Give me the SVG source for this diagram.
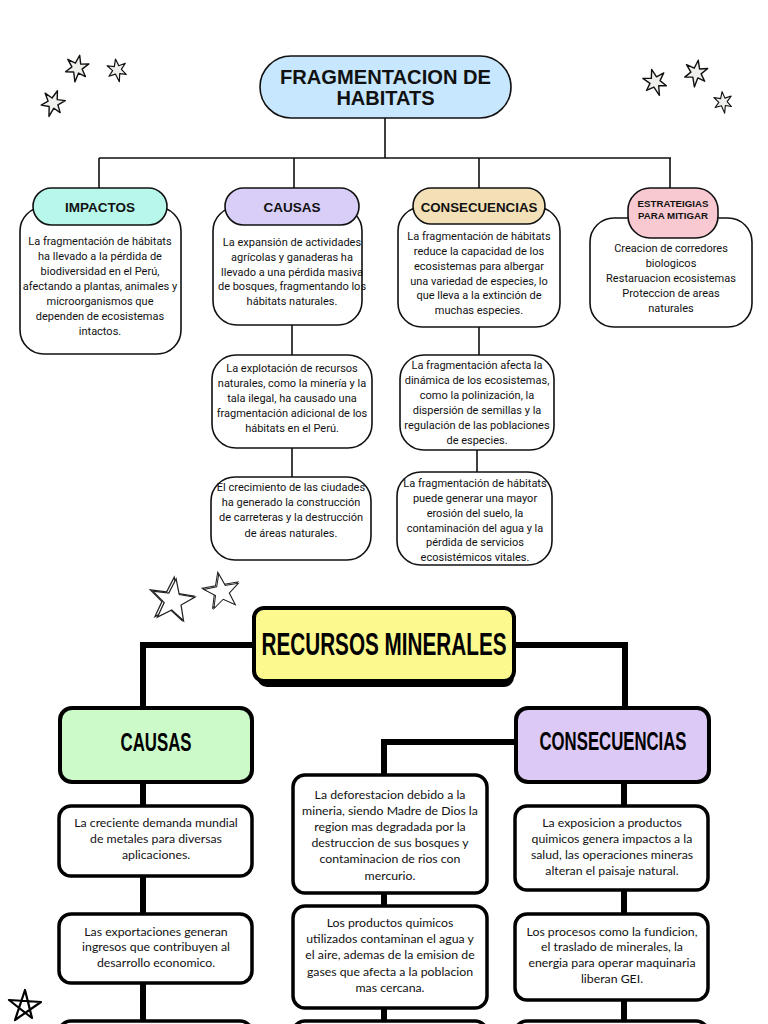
<svg xmlns="http://www.w3.org/2000/svg" width="768" height="1024" viewBox="0 0 768 1024">
<style>
.bg{fill:#ffffff}
.ln1{fill:none;stroke:#111;stroke-width:1.6}
.ln2{fill:none;stroke:#000;stroke-width:6}
.box1{fill:#fff;stroke:#111;stroke-width:1.6}
.pill{stroke:#111;stroke-width:1.6}
.hd{font-family:"Liberation Sans",Arial,sans-serif;font-weight:bold;text-anchor:middle;fill:#111}
.t1{font-family:Roboto,"Liberation Sans",sans-serif;font-size:11px;text-anchor:middle;fill:#111}
.box2{fill:#fff;stroke:#000;stroke-width:3.5}
.hd2{font-family:"Liberation Sans Narrow","Liberation Sans",sans-serif;font-weight:bold;text-anchor:middle;fill:#000}
.t2{font-family:Lato,"Noto Sans",sans-serif;font-size:12.3px;text-anchor:middle;fill:#111}
.star6{fill:#efefeb;stroke:#111;stroke-width:1.4;stroke-linejoin:round}
.star5{fill:#fff;stroke:#222;stroke-width:1.1;stroke-linejoin:miter}
</style>
<defs>
<path id="s6" d="M0,-13 L2.8,-4.6 L10.8,-6.5 L5.2,0 L10,6.6 L2.6,4.6 L0.8,14 L-2.4,4.6 L-10.4,6 L-5.2,0 L-10.8,-6.6 L-2.6,-4.4 Z"/>
<path id="s5" d="M0,-20 L4.7,-6.5 L19,-6.2 L7.6,2.5 L11.8,16.2 L0,8 L-11.8,16.2 L-7.6,2.5 L-19,-6.2 L-4.7,-6.5 Z"/>
</defs>
<rect class="bg" x="0" y="0" width="768" height="1024"/>

<g id="stars">
<use href="#s6" class="star6" transform="translate(77,68) rotate(12)"/>
<use href="#s6" class="star6" transform="translate(117,70) rotate(-8) scale(0.85)"/>
<use href="#s6" class="star6" transform="translate(53,103) rotate(20)"/>
<use href="#s6" class="star6" transform="translate(655,82) rotate(-15)"/>
<use href="#s6" class="star6" transform="translate(696,73) rotate(10)"/>
<use href="#s6" class="star6" transform="translate(723,102) rotate(-5) scale(0.8)"/>
<use href="#s5" class="star5" transform="translate(171,600) rotate(8) scale(1.15)"/>
<use href="#s5" class="star5" transform="translate(173,601) rotate(8) scale(1.12)"/>
<use href="#s5" class="star5" transform="translate(221,591) rotate(-10) scale(0.95)"/>
<use href="#s5" class="star5" transform="translate(222,592) rotate(-10) scale(0.92)"/>
<path d="M25,990 L32,1018 L9,1000 L41,1002 L15,1020 Z" fill="none" stroke="#000" stroke-width="2.2" stroke-linejoin="round"/>
</g>

<g id="connectors">
<path class="ln1" d="M385,118 V158 M99,158 H671 M99,158 V188 M294,158 V188 M479,158 V188 M670,158 V188"/>
<path class="ln1" d="M292,325 V355 M292,448 V477 M479,327 V355 M477,450 V472"/>
<path class="ln2" d="M254,645 H143 V708 M514,645 H625 V708 M516,742 H384 V775"/>
<path class="ln2" d="M143,782 V806 M143,876 V914 M143,983 V1021 M384,893 V906 M384,1008 V1021 M624,782 V806 M624,890 V914 M624,1000 V1021"/>
</g>

<g id="title1">
<rect x="260" y="56" width="251" height="62" rx="31" fill="#c6e7fd" class="pill"/>
<text class="hd" x="385.5" y="84" font-size="20" textLength="211" lengthAdjust="spacingAndGlyphs">FRAGMENTACION DE</text>
<text class="hd" x="385.5" y="105" font-size="20">HABITATS</text>
</g>

<g id="impactos">
<rect class="box1" x="20" y="207" width="161" height="147" rx="24"/>
<rect x="33" y="188" width="134" height="37" rx="18.5" fill="#b7f8eb" class="pill"/>
<text class="hd" x="100" y="211.5" font-size="13.5">IMPACTOS</text>
<text class="t1"><tspan x="100" y="245">La fragmentación de hábitats</tspan><tspan x="100" y="260">ha llevado a la pérdida de</tspan><tspan x="100" y="275">biodiversidad en el Perú,</tspan><tspan x="100" y="290">afectando a plantas, animales y</tspan><tspan x="100" y="305">microorganismos que</tspan><tspan x="100" y="320">dependen de ecosistemas</tspan><tspan x="100" y="335">intactos.</tspan></text>
</g>

<g id="causas1">
<rect class="box1" x="213" y="207" width="149" height="118" rx="24"/>
<rect x="225" y="188" width="134" height="37" rx="18.5" fill="#d8cef8" class="pill"/>
<text class="hd" x="292" y="211.5" font-size="13.5">CAUSAS</text>
<text class="t1"><tspan x="292" y="246">La expansión de actividades</tspan><tspan x="292" y="261">agrícolas y ganaderas ha</tspan><tspan x="292" y="276">llevado a una pérdida masiva</tspan><tspan x="292" y="290">de bosques, fragmentando los</tspan><tspan x="292" y="305">hábitats naturales.</tspan></text>
</g>

<g id="consecuencias1">
<rect class="box1" x="398" y="207" width="162" height="120" rx="24"/>
<rect x="413" y="188" width="132" height="36" rx="18" fill="#f3e0b6" class="pill"/>
<text class="hd" x="479" y="211.5" font-size="13.3">CONSECUENCIAS</text>
<text class="t1"><tspan x="479" y="240">La fragmentación de hábitats</tspan><tspan x="479" y="255">reduce la capacidad de los</tspan><tspan x="479" y="270">ecosistemas para albergar</tspan><tspan x="479" y="285">una variedad de especies, lo</tspan><tspan x="479" y="299">que lleva a la extinción de</tspan><tspan x="479" y="314">muchas especies.</tspan></text>
</g>

<g id="estrategias">
<rect class="box1" x="590" y="218" width="162" height="109" rx="24"/>
<rect x="628" y="188" width="90" height="50" rx="22" fill="#f8c9d0" class="pill"/>
<text class="hd" x="673" y="207.3" font-size="9.7">ESTRATEIGIAS</text>
<text class="hd" x="673" y="219.3" font-size="9.7">PARA MITIGAR</text>
<text class="t1"><tspan x="671" y="252">Creacion de corredores</tspan><tspan x="671" y="267">biologicos</tspan><tspan x="671" y="282">Restaruacion ecosistemas</tspan><tspan x="671" y="297">Proteccion de areas</tspan><tspan x="671" y="312">naturales</tspan></text>
</g>

<g id="causas1b">
<rect class="box1" x="212" y="355" width="160" height="93" rx="24"/>
<text class="t1"><tspan x="292" y="372">La explotación de recursos</tspan><tspan x="292" y="387">naturales, como la minería y la</tspan><tspan x="292" y="402">tala ilegal, ha causado una</tspan><tspan x="292" y="417">fragmentación adicional de los</tspan><tspan x="292" y="432">hábitats en el Perú.</tspan></text>
</g>

<g id="causas1c">
<rect class="box1" x="211" y="477" width="160" height="83" rx="24"/>
<text class="t1"><tspan x="291" y="491">El crecimiento de las ciudades</tspan><tspan x="291" y="506">ha generado la construcción</tspan><tspan x="291" y="521">de carreteras y la destrucción</tspan><tspan x="291" y="537">de áreas naturales.</tspan></text>
</g>

<g id="consecuencias1b">
<rect class="box1" x="400" y="355" width="154" height="95" rx="24"/>
<text class="t1"><tspan x="477" y="369">La fragmentación afecta la</tspan><tspan x="477" y="384">dinámica de los ecosistemas,</tspan><tspan x="477" y="399">como la polinización, la</tspan><tspan x="477" y="414">dispersión de semillas y la</tspan><tspan x="477" y="429">regulación de las poblaciones</tspan><tspan x="477" y="444">de especies.</tspan></text>
</g>

<g id="consecuencias1c">
<rect class="box1" x="397" y="472" width="155" height="93" rx="24"/>
<text class="t1"><tspan x="475" y="487">La fragmentación de hábitats</tspan><tspan x="475" y="502">puede generar una mayor</tspan><tspan x="475" y="517">erosión del suelo, la</tspan><tspan x="475" y="532">contaminación del agua y la</tspan><tspan x="475" y="546">pérdida de servicios</tspan><tspan x="475" y="561">ecosistémicos vitales.</tspan></text>
</g>

<g id="title2">
<rect x="257" y="613" width="257" height="74" rx="10" fill="#000"/>
<rect x="254" y="608" width="260" height="73" rx="10" fill="#fcf98f" stroke="#000" stroke-width="4"/>
<text class="hd2" x="384" y="655" font-size="32" textLength="245" lengthAdjust="spacingAndGlyphs">RECURSOS MINERALES</text>
</g>

<g id="causas2">
<rect x="60" y="708" width="192" height="74" rx="12" fill="#ccfbc9" stroke="#000" stroke-width="4"/>
<text class="hd2" x="156" y="751" font-size="25" textLength="71" lengthAdjust="spacingAndGlyphs">CAUSAS</text>
</g>

<g id="consecuencias2">
<rect x="516" y="708" width="193" height="74" rx="12" fill="#dcc9f5" stroke="#000" stroke-width="4"/>
<text class="hd2" x="613" y="750" font-size="25" textLength="147" lengthAdjust="spacingAndGlyphs">CONSECUENCIAS</text>
</g>

<g id="c2a">
<rect class="box2" x="59" y="806" width="193" height="70" rx="12"/>
<text class="t2"><tspan x="156" y="827">La creciente demanda mundial</tspan><tspan x="156" y="843">de metales para diversas</tspan><tspan x="156" y="859">aplicaciones.</tspan></text>
</g>
<g id="c2b">
<rect class="box2" x="59" y="914" width="193" height="69" rx="12"/>
<text class="t2"><tspan x="156" y="936">Las exportaciones generan</tspan><tspan x="156" y="951">ingresos que contribuyen al</tspan><tspan x="156" y="967">desarrollo economico.</tspan></text>
</g>
<g id="c2c">
<rect class="box2" x="59" y="1021" width="193" height="40" rx="12"/>
</g>

<g id="m2a">
<rect class="box2" x="293" y="775" width="194" height="118" rx="12"/>
<text class="t2"><tspan x="390" y="799">La deforestacion debido a la</tspan><tspan x="390" y="815">mineria, siendo Madre de Dios la</tspan><tspan x="390" y="831">region mas degradada por la</tspan><tspan x="390" y="847">destruccion de sus bosques y</tspan><tspan x="390" y="863">contaminacion de rios con</tspan><tspan x="390" y="880">mercurio.</tspan></text>
</g>
<g id="m2b">
<rect class="box2" x="293" y="906" width="194" height="102" rx="12"/>
<text class="t2"><tspan x="390" y="927">Los productos quimicos</tspan><tspan x="390" y="943">utilizados contaminan el agua y</tspan><tspan x="390" y="959">el aire, ademas de la emision de</tspan><tspan x="390" y="976">gases que afecta a la poblacion</tspan><tspan x="390" y="992">mas cercana.</tspan></text>
</g>
<g id="m2c">
<rect class="box2" x="293" y="1021" width="194" height="40" rx="12"/>
</g>

<g id="r2a">
<rect class="box2" x="515" y="806" width="193" height="84" rx="12"/>
<text class="t2"><tspan x="612" y="827">La exposicion a productos</tspan><tspan x="612" y="843">quimicos genera impactos a la</tspan><tspan x="612" y="859">salud, las operaciones mineras</tspan><tspan x="612" y="875">alteran el paisaje natural.</tspan></text>
</g>
<g id="r2b">
<rect class="box2" x="515" y="914" width="193" height="86" rx="12"/>
<text class="t2"><tspan x="612" y="936">Los procesos como la fundicion,</tspan><tspan x="612" y="951">el traslado de minerales, la</tspan><tspan x="612" y="967">energia para operar maquinaria</tspan><tspan x="612" y="983">liberan GEI.</tspan></text>
</g>
<g id="r2c">
<rect class="box2" x="515" y="1021" width="193" height="40" rx="12"/>
</g>
</svg>
